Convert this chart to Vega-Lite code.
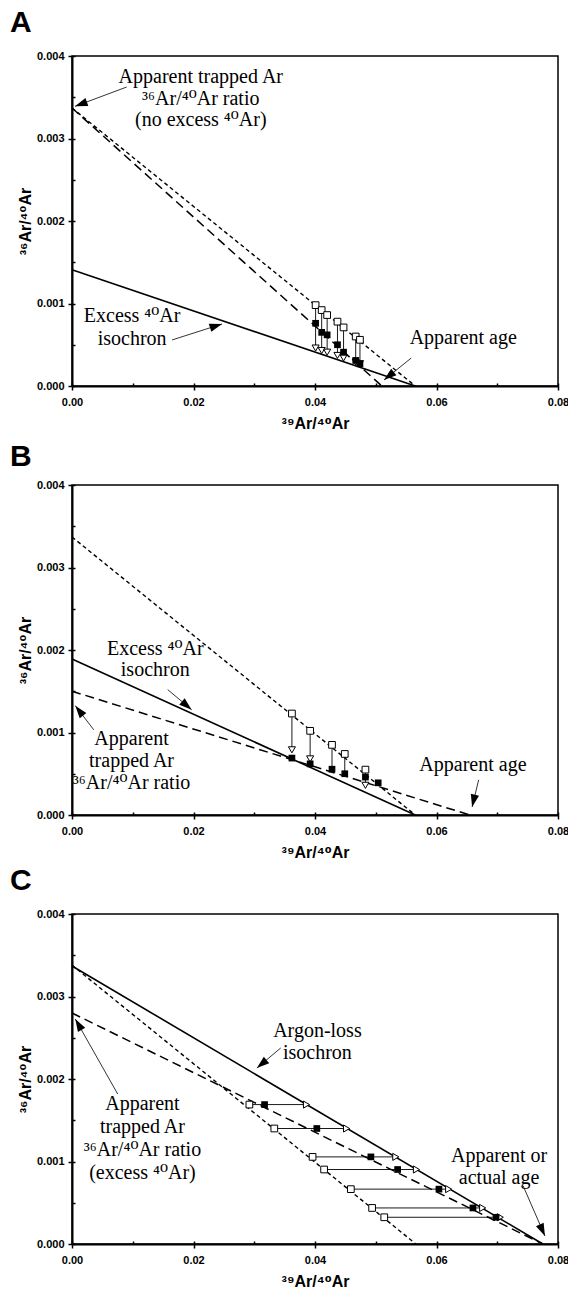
{
  "$schema": "https://vega.github.io/schema/vega-lite/v6.json",
  "background": "white",
  "padding": {"left": 9, "top": 7, "right": 0, "bottom": 0},
  "spacing": 99,
  "bounds": "flush",
  "config": {
    "view": {"stroke": "black", "strokeWidth": 1.5},
    "axis": {
      "domainColor": "black", "domainWidth": 2, "tickColor": "black", "tickWidth": 1.5, "tickSize": 4,
      "labelFont": "Liberation Sans", "labelFontWeight": "bold", "labelFontSize": 11, "labelColor": "black",
      "titleFont": "Liberation Sans, DejaVu Sans", "titleFontWeight": "bold", "titleFontSize": 16, "titleColor": "black",
      "grid": false, "labelFlush": false, "labelOverlap": false
    },
    "title": {"font": "Liberation Sans", "fontWeight": "bold", "fontSize": 30, "color": "black", "anchor": "start", "frame": "group", "baseline": "alphabetic", "dx": -62}
  },
  "datasets": {
    "lines": [
      {"p": "A", "s": "isochron", "x": 0, "y": 0.00141}, {"p": "A", "s": "isochron", "x": 0.0565, "y": 0},
      {"p": "A", "s": "reference", "x": 0, "y": 0.00337}, {"p": "A", "s": "reference", "x": 0.0565, "y": 0},
      {"p": "A", "s": "apparent", "x": 0, "y": 0.00337}, {"p": "A", "s": "apparent", "x": 0.051, "y": 0},
      {"p": "B", "s": "isochron", "x": 0, "y": 0.00189}, {"p": "B", "s": "isochron", "x": 0.0565, "y": 0},
      {"p": "B", "s": "reference", "x": 0, "y": 0.00337}, {"p": "B", "s": "reference", "x": 0.0565, "y": 0},
      {"p": "B", "s": "apparent", "x": 0, "y": 0.0015}, {"p": "B", "s": "apparent", "x": 0.0655, "y": 0},
      {"p": "C", "s": "isochron", "x": 0, "y": 0.00337}, {"p": "C", "s": "isochron", "x": 0.0775, "y": 0},
      {"p": "C", "s": "reference", "x": 0, "y": 0.00338}, {"p": "C", "s": "reference", "x": 0.0566, "y": 0},
      {"p": "C", "s": "apparent", "x": 0, "y": 0.0028}, {"p": "C", "s": "apparent", "x": 0.0775, "y": 0}
    ],
    "points": [
      {"p": "A", "k": "open", "x": 0.0401, "y": 0.00098}, {"p": "A", "k": "open", "x": 0.0411, "y": 0.00092},
      {"p": "A", "k": "open", "x": 0.0420, "y": 0.00086}, {"p": "A", "k": "open", "x": 0.0437, "y": 0.00078},
      {"p": "A", "k": "open", "x": 0.0447, "y": 0.00071}, {"p": "A", "k": "open", "x": 0.0467, "y": 0.0006},
      {"p": "A", "k": "open", "x": 0.0474, "y": 0.00056},
      {"p": "A", "k": "tri", "x": 0.0401, "y": 0.00046}, {"p": "A", "k": "tri", "x": 0.0411, "y": 0.00043},
      {"p": "A", "k": "tri", "x": 0.0420, "y": 0.00041}, {"p": "A", "k": "tri", "x": 0.0437, "y": 0.00037},
      {"p": "A", "k": "tri", "x": 0.0447, "y": 0.00034}, {"p": "A", "k": "tri", "x": 0.0467, "y": 0.00029},
      {"p": "A", "k": "tri", "x": 0.0474, "y": 0.00027},
      {"p": "A", "k": "filled", "x": 0.0401, "y": 0.00076}, {"p": "A", "k": "filled", "x": 0.0411, "y": 0.00065},
      {"p": "A", "k": "filled", "x": 0.0420, "y": 0.00062}, {"p": "A", "k": "filled", "x": 0.0437, "y": 0.0005},
      {"p": "A", "k": "filled", "x": 0.0447, "y": 0.00041}, {"p": "A", "k": "filled", "x": 0.0467, "y": 0.00031},
      {"p": "A", "k": "filled", "x": 0.0474, "y": 0.00027},
      {"p": "B", "k": "open", "x": 0.0362, "y": 0.00123}, {"p": "B", "k": "open", "x": 0.0392, "y": 0.00102},
      {"p": "B", "k": "open", "x": 0.0428, "y": 0.00085}, {"p": "B", "k": "open", "x": 0.0449, "y": 0.00074},
      {"p": "B", "k": "open", "x": 0.0483, "y": 0.00055},
      {"p": "B", "k": "tri", "x": 0.0362, "y": 0.00079}, {"p": "B", "k": "tri", "x": 0.0392, "y": 0.00068},
      {"p": "B", "k": "tri", "x": 0.0483, "y": 0.00036},
      {"p": "B", "k": "filled", "x": 0.0362, "y": 0.00069}, {"p": "B", "k": "filled", "x": 0.0392, "y": 0.00062},
      {"p": "B", "k": "filled", "x": 0.0428, "y": 0.000555}, {"p": "B", "k": "filled", "x": 0.0449, "y": 0.0005},
      {"p": "B", "k": "filled", "x": 0.0483, "y": 0.00046}, {"p": "B", "k": "filled", "x": 0.0504, "y": 0.00039},
      {"p": "C", "k": "open", "x": 0.0292, "y": 0.00169}, {"p": "C", "k": "open", "x": 0.0333, "y": 0.0014},
      {"p": "C", "k": "open", "x": 0.0396, "y": 0.001056}, {"p": "C", "k": "open", "x": 0.0415, "y": 0.000903},
      {"p": "C", "k": "open", "x": 0.0459, "y": 0.000665}, {"p": "C", "k": "open", "x": 0.0494, "y": 0.000437},
      {"p": "C", "k": "open", "x": 0.0514, "y": 0.000324},
      {"p": "C", "k": "tri", "x": 0.0386, "y": 0.00169}, {"p": "C", "k": "tri", "x": 0.0452, "y": 0.0014},
      {"p": "C", "k": "tri", "x": 0.0533, "y": 0.001056}, {"p": "C", "k": "tri", "x": 0.0567, "y": 0.000903},
      {"p": "C", "k": "tri", "x": 0.0620, "y": 0.000665}, {"p": "C", "k": "tri", "x": 0.0676, "y": 0.000437},
      {"p": "C", "k": "tri", "x": 0.0705, "y": 0.000324},
      {"p": "C", "k": "filled", "x": 0.0317, "y": 0.00169}, {"p": "C", "k": "filled", "x": 0.0403, "y": 0.0014},
      {"p": "C", "k": "filled", "x": 0.0492, "y": 0.001056}, {"p": "C", "k": "filled", "x": 0.0536, "y": 0.000903},
      {"p": "C", "k": "filled", "x": 0.0604, "y": 0.000665}, {"p": "C", "k": "filled", "x": 0.0660, "y": 0.000437},
      {"p": "C", "k": "filled", "x": 0.0698, "y": 0.000324}
    ],
    "links": [
      {"p": "A", "x": 0.0401, "y": 0.00098, "x2": 0.0401, "y2": 0.00046},
      {"p": "A", "x": 0.0411, "y": 0.00092, "x2": 0.0411, "y2": 0.00043},
      {"p": "A", "x": 0.0420, "y": 0.00086, "x2": 0.0420, "y2": 0.00041},
      {"p": "A", "x": 0.0437, "y": 0.00078, "x2": 0.0437, "y2": 0.00037},
      {"p": "A", "x": 0.0447, "y": 0.00071, "x2": 0.0447, "y2": 0.00034},
      {"p": "A", "x": 0.0467, "y": 0.0006, "x2": 0.0467, "y2": 0.00029},
      {"p": "A", "x": 0.0474, "y": 0.00056, "x2": 0.0474, "y2": 0.00027},
      {"p": "B", "x": 0.0362, "y": 0.00123, "x2": 0.0362, "y2": 0.00079},
      {"p": "B", "x": 0.0392, "y": 0.00102, "x2": 0.0392, "y2": 0.00068},
      {"p": "B", "x": 0.0428, "y": 0.00085, "x2": 0.0428, "y2": 0.000555},
      {"p": "B", "x": 0.0449, "y": 0.00074, "x2": 0.0449, "y2": 0.0005},
      {"p": "B", "x": 0.0483, "y": 0.00055, "x2": 0.0483, "y2": 0.00036},
      {"p": "C", "x": 0.0292, "y": 0.00169, "x2": 0.0386, "y2": 0.00169},
      {"p": "C", "x": 0.0333, "y": 0.0014, "x2": 0.0452, "y2": 0.0014},
      {"p": "C", "x": 0.0396, "y": 0.001056, "x2": 0.0533, "y2": 0.001056},
      {"p": "C", "x": 0.0415, "y": 0.000903, "x2": 0.0567, "y2": 0.000903},
      {"p": "C", "x": 0.0459, "y": 0.000665, "x2": 0.0620, "y2": 0.000665},
      {"p": "C", "x": 0.0494, "y": 0.000437, "x2": 0.0676, "y2": 0.000437},
      {"p": "C", "x": 0.0514, "y": 0.000324, "x2": 0.0705, "y2": 0.000324}
    ],
    "arrows": [
      {"p": "A", "id": 1, "x": 0.0090, "y": 0.003624, "x2": 0.0005, "y2": 0.00339},
      {"p": "A", "id": 2, "x": 0.01647, "y": 0.000558, "x2": 0.0247, "y2": 0.000752},
      {"p": "A", "id": 3, "x": 0.05584, "y": 0.000339, "x2": 0.05136, "y2": 0.0000727},
      {"p": "B", "id": 1, "x": 0.01575, "y": 0.00152, "x2": 0.01969, "y2": 0.001277},
      {"p": "B", "id": 2, "x": 0.00358, "y": 0.001033, "x2": 0.00054, "y2": 0.001325},
      {"p": "B", "id": 3, "x": 0.06694, "y": 0.000426, "x2": 0.06586, "y2": 0.0000973},
      {"p": "C", "id": 1, "x": 0.03436, "y": 0.002376, "x2": 0.03043, "y2": 0.002133},
      {"p": "C", "id": 2, "x": 0.00752, "y": 0.001818, "x2": 0.00054, "y2": 0.002727},
      {"p": "C", "id": 3, "x": 0.07427, "y": 0.000703, "x2": 0.07785, "y2": 0.000097}
    ],
    "labels": [
      {"p": "A", "x": 0.0212, "y": 0.003742, "t": "Apparent trapped Ar"},
      {"p": "A", "x": 0.0212, "y": 0.003475, "t": "³⁶Ar/⁴⁰Ar ratio"},
      {"p": "A", "x": 0.0212, "y": 0.003224, "t": "(no excess ⁴⁰Ar)"},
      {"p": "A", "x": 0.0099, "y": 0.000848, "t": "Excess ⁴⁰Ar"},
      {"p": "A", "x": 0.0099, "y": 0.000566, "t": "isochron"},
      {"p": "A", "x": 0.0644, "y": 0.000578, "t": "Apparent age"},
      {"p": "B", "x": 0.0137, "y": 0.002013, "t": "Excess ⁴⁰Ar"},
      {"p": "B", "x": 0.0137, "y": 0.001753, "t": "isochron"},
      {"p": "B", "x": 0.0098, "y": 0.00092, "t": "Apparent"},
      {"p": "B", "x": 0.0098, "y": 0.00066, "t": "trapped Ar"},
      {"p": "B", "x": 0.0098, "y": 0.000385, "t": "³⁶Ar/⁴⁰Ar ratio"},
      {"p": "B", "x": 0.0660, "y": 0.000607, "t": "Apparent age"},
      {"p": "C", "x": 0.0404, "y": 0.002583, "t": "Argon-loss"},
      {"p": "C", "x": 0.0404, "y": 0.002312, "t": "isochron"},
      {"p": "C", "x": 0.0116, "y": 0.001693, "t": "Apparent"},
      {"p": "C", "x": 0.0116, "y": 0.001417, "t": "trapped Ar"},
      {"p": "C", "x": 0.0116, "y": 0.001138, "t": "³⁶Ar/⁴⁰Ar ratio"},
      {"p": "C", "x": 0.0116, "y": 0.000855, "t": "(excess ⁴⁰Ar)"},
      {"p": "C", "x": 0.0703, "y": 0.001065, "t": "Apparent or"},
      {"p": "C", "x": 0.0703, "y": 0.000802, "t": "actual age"}
    ]
  },
  "vconcat": [
    {
      "width": 486, "height": 330,
      "title": {"text": "A", "offset": 12},
      "resolve": {"axis": {"x": "independent", "y": "independent"}},
      "layer": [
        {"data": {"name": "lines"}, "transform": [{"filter": "datum.p == 'A' && datum.s == 'isochron'"}],
         "mark": {"type": "line", "color": "black", "strokeWidth": 1.6},
         "encoding": {
           "x": {"field": "x", "type": "quantitative", "scale": {"domain": [0, 0.08], "nice": false, "zero": true},
                 "axis": {"orient": "bottom", "values": [0, 0.02, 0.04, 0.06, 0.08], "format": ".2f", "title": "³⁹Ar/⁴⁰Ar", "labelPadding": 6, "titlePadding": 8}},
           "y": {"field": "y", "type": "quantitative", "scale": {"domain": [0, 0.004], "nice": false, "zero": true},
                 "axis": {"orient": "left", "values": [0, 0.001, 0.002, 0.003, 0.004], "format": ".3f", "title": "³⁶Ar/⁴⁰Ar", "labelPadding": 4, "titlePadding": 3}}
         }},
        {"data": {"name": "lines"}, "transform": [{"filter": "datum.p == 'A' && datum.s == 'reference'"}],
         "mark": {"type": "line", "color": "black", "strokeWidth": 1.4, "strokeDash": [4, 3]},
         "encoding": {
           "x": {"field": "x", "type": "quantitative", "axis": {"orient": "bottom", "values": [0, 0.01, 0.02, 0.03, 0.04, 0.05, 0.06, 0.07, 0.08], "tickSize": -3, "labels": false, "domain": false, "title": null}},
           "y": {"field": "y", "type": "quantitative", "axis": {"orient": "left", "values": [0, 0.0005, 0.001, 0.0015, 0.002, 0.0025, 0.003, 0.0035, 0.004], "tickSize": -3, "labels": false, "domain": false, "title": null}}
         }},
        {"data": {"name": "lines"}, "transform": [{"filter": "datum.p == 'A' && datum.s == 'apparent'"}],
         "mark": {"type": "line", "color": "black", "strokeWidth": 1.5, "strokeDash": [9, 5]},
         "encoding": {"x": {"field": "x", "type": "quantitative", "axis": null}, "y": {"field": "y", "type": "quantitative", "axis": null}}},
        {"data": {"name": "links"}, "transform": [{"filter": "datum.p == 'A'"}],
         "mark": {"type": "rule", "color": "black", "strokeWidth": 0.9},
         "encoding": {"x": {"field": "x", "type": "quantitative", "axis": null}, "y": {"field": "y", "type": "quantitative", "axis": null}, "x2": {"field": "x2"}, "y2": {"field": "y2"}}},
        {"data": {"name": "arrows"}, "transform": [{"filter": "datum.p == 'A'"}],
         "mark": {"type": "rule", "color": "black", "strokeWidth": 0.8},
         "encoding": {"x": {"field": "x", "type": "quantitative", "axis": null}, "y": {"field": "y", "type": "quantitative", "axis": null}, "x2": {"field": "x2"}, "y2": {"field": "y2"}}},
        {"data": {"name": "arrows"}, "transform": [{"filter": "datum.p == 'A' && datum.id == 1"}],
         "mark": {"type": "point", "shape": "M0,0L-0.7,2.1L0.7,2.1Z", "filled": true, "color": "black", "opacity": 1, "size": 144, "angle": 250},
         "encoding": {"x": {"field": "x2", "type": "quantitative", "axis": null}, "y": {"field": "y2", "type": "quantitative", "axis": null}}},
        {"data": {"name": "arrows"}, "transform": [{"filter": "datum.p == 'A' && datum.id == 2"}],
         "mark": {"type": "point", "shape": "M0,0L-0.7,2.1L0.7,2.1Z", "filled": true, "color": "black", "opacity": 1, "size": 144, "angle": 72},
         "encoding": {"x": {"field": "x2", "type": "quantitative", "axis": null}, "y": {"field": "y2", "type": "quantitative", "axis": null}}},
        {"data": {"name": "arrows"}, "transform": [{"filter": "datum.p == 'A' && datum.id == 3"}],
         "mark": {"type": "point", "shape": "M0,0L-0.7,2.1L0.7,2.1Z", "filled": true, "color": "black", "opacity": 1, "size": 144, "angle": 231},
         "encoding": {"x": {"field": "x2", "type": "quantitative", "axis": null}, "y": {"field": "y2", "type": "quantitative", "axis": null}}},
        {"data": {"name": "points"}, "transform": [{"filter": "datum.p == 'A' && datum.k == 'open'"}],
         "mark": {"type": "point", "shape": "square", "filled": true, "fill": "white", "stroke": "black", "strokeWidth": 1, "opacity": 1, "size": 45},
         "encoding": {"x": {"field": "x", "type": "quantitative", "axis": null}, "y": {"field": "y", "type": "quantitative", "axis": null}}},
        {"data": {"name": "points"}, "transform": [{"filter": "datum.p == 'A' && datum.k == 'tri'"}],
         "mark": {"type": "point", "shape": "triangle-down", "filled": true, "fill": "white", "stroke": "black", "strokeWidth": 1, "opacity": 1, "size": 50},
         "encoding": {"x": {"field": "x", "type": "quantitative", "axis": null}, "y": {"field": "y", "type": "quantitative", "axis": null}}},
        {"data": {"name": "points"}, "transform": [{"filter": "datum.p == 'A' && datum.k == 'filled'"}],
         "mark": {"type": "point", "shape": "square", "filled": true, "color": "black", "opacity": 1, "size": 45},
         "encoding": {"x": {"field": "x", "type": "quantitative", "axis": null}, "y": {"field": "y", "type": "quantitative", "axis": null}}},
        {"data": {"name": "labels"}, "transform": [{"filter": "datum.p == 'A'"}],
         "mark": {"type": "text", "font": "Liberation Serif, DejaVu Serif", "fontSize": 20, "color": "black", "align": "center", "baseline": "middle"},
         "encoding": {"x": {"field": "x", "type": "quantitative", "axis": null}, "y": {"field": "y", "type": "quantitative", "axis": null}, "text": {"field": "t"}}}
      ]
    },
    {
      "width": 486, "height": 330,
      "title": {"text": "B", "offset": 7},
      "resolve": {"axis": {"x": "independent", "y": "independent"}},
      "layer": [
        {"data": {"name": "lines"}, "transform": [{"filter": "datum.p == 'B' && datum.s == 'isochron'"}],
         "mark": {"type": "line", "color": "black", "strokeWidth": 1.6},
         "encoding": {
           "x": {"field": "x", "type": "quantitative", "scale": {"domain": [0, 0.08], "nice": false, "zero": true},
                 "axis": {"orient": "bottom", "values": [0, 0.02, 0.04, 0.06, 0.08], "format": ".2f", "title": "³⁹Ar/⁴⁰Ar", "labelPadding": 6, "titlePadding": 8}},
           "y": {"field": "y", "type": "quantitative", "scale": {"domain": [0, 0.004], "nice": false, "zero": true},
                 "axis": {"orient": "left", "values": [0, 0.001, 0.002, 0.003, 0.004], "format": ".3f", "title": "³⁶Ar/⁴⁰Ar", "labelPadding": 4, "titlePadding": 3}}
         }},
        {"data": {"name": "lines"}, "transform": [{"filter": "datum.p == 'B' && datum.s == 'reference'"}],
         "mark": {"type": "line", "color": "black", "strokeWidth": 1.4, "strokeDash": [4, 3]},
         "encoding": {
           "x": {"field": "x", "type": "quantitative", "axis": {"orient": "bottom", "values": [0, 0.01, 0.02, 0.03, 0.04, 0.05, 0.06, 0.07, 0.08], "tickSize": -3, "labels": false, "domain": false, "title": null}},
           "y": {"field": "y", "type": "quantitative", "axis": {"orient": "left", "values": [0, 0.0005, 0.001, 0.0015, 0.002, 0.0025, 0.003, 0.0035, 0.004], "tickSize": -3, "labels": false, "domain": false, "title": null}}
         }},
        {"data": {"name": "lines"}, "transform": [{"filter": "datum.p == 'B' && datum.s == 'apparent'"}],
         "mark": {"type": "line", "color": "black", "strokeWidth": 1.5, "strokeDash": [9, 5]},
         "encoding": {"x": {"field": "x", "type": "quantitative", "axis": null}, "y": {"field": "y", "type": "quantitative", "axis": null}}},
        {"data": {"name": "links"}, "transform": [{"filter": "datum.p == 'B'"}],
         "mark": {"type": "rule", "color": "black", "strokeWidth": 0.9},
         "encoding": {"x": {"field": "x", "type": "quantitative", "axis": null}, "y": {"field": "y", "type": "quantitative", "axis": null}, "x2": {"field": "x2"}, "y2": {"field": "y2"}}},
        {"data": {"name": "arrows"}, "transform": [{"filter": "datum.p == 'B'"}],
         "mark": {"type": "rule", "color": "black", "strokeWidth": 0.8},
         "encoding": {"x": {"field": "x", "type": "quantitative", "axis": null}, "y": {"field": "y", "type": "quantitative", "axis": null}, "x2": {"field": "x2"}, "y2": {"field": "y2"}}},
        {"data": {"name": "arrows"}, "transform": [{"filter": "datum.p == 'B' && datum.id == 1"}],
         "mark": {"type": "point", "shape": "M0,0L-0.7,2.1L0.7,2.1Z", "filled": true, "color": "black", "opacity": 1, "size": 144, "angle": 130},
         "encoding": {"x": {"field": "x2", "type": "quantitative", "axis": null}, "y": {"field": "y2", "type": "quantitative", "axis": null}}},
        {"data": {"name": "arrows"}, "transform": [{"filter": "datum.p == 'B' && datum.id == 2"}],
         "mark": {"type": "point", "shape": "M0,0L-0.7,2.1L0.7,2.1Z", "filled": true, "color": "black", "opacity": 1, "size": 144, "angle": 322},
         "encoding": {"x": {"field": "x2", "type": "quantitative", "axis": null}, "y": {"field": "y2", "type": "quantitative", "axis": null}}},
        {"data": {"name": "arrows"}, "transform": [{"filter": "datum.p == 'B' && datum.id == 3"}],
         "mark": {"type": "point", "shape": "M0,0L-0.7,2.1L0.7,2.1Z", "filled": true, "color": "black", "opacity": 1, "size": 144, "angle": 193},
         "encoding": {"x": {"field": "x2", "type": "quantitative", "axis": null}, "y": {"field": "y2", "type": "quantitative", "axis": null}}},
        {"data": {"name": "points"}, "transform": [{"filter": "datum.p == 'B' && datum.k == 'open'"}],
         "mark": {"type": "point", "shape": "square", "filled": true, "fill": "white", "stroke": "black", "strokeWidth": 1, "opacity": 1, "size": 45},
         "encoding": {"x": {"field": "x", "type": "quantitative", "axis": null}, "y": {"field": "y", "type": "quantitative", "axis": null}}},
        {"data": {"name": "points"}, "transform": [{"filter": "datum.p == 'B' && datum.k == 'tri'"}],
         "mark": {"type": "point", "shape": "triangle-down", "filled": true, "fill": "white", "stroke": "black", "strokeWidth": 1, "opacity": 1, "size": 50},
         "encoding": {"x": {"field": "x", "type": "quantitative", "axis": null}, "y": {"field": "y", "type": "quantitative", "axis": null}}},
        {"data": {"name": "points"}, "transform": [{"filter": "datum.p == 'B' && datum.k == 'filled'"}],
         "mark": {"type": "point", "shape": "square", "filled": true, "color": "black", "opacity": 1, "size": 45},
         "encoding": {"x": {"field": "x", "type": "quantitative", "axis": null}, "y": {"field": "y", "type": "quantitative", "axis": null}}},
        {"data": {"name": "labels"}, "transform": [{"filter": "datum.p == 'B'"}],
         "mark": {"type": "text", "font": "Liberation Serif, DejaVu Serif", "fontSize": 20, "color": "black", "align": "center", "baseline": "middle"},
         "encoding": {"x": {"field": "x", "type": "quantitative", "axis": null}, "y": {"field": "y", "type": "quantitative", "axis": null}, "text": {"field": "t"}}}
      ]
    },
    {
      "width": 486, "height": 330,
      "title": {"text": "C", "offset": 12},
      "resolve": {"axis": {"x": "independent", "y": "independent"}},
      "layer": [
        {"data": {"name": "lines"}, "transform": [{"filter": "datum.p == 'C' && datum.s == 'isochron'"}],
         "mark": {"type": "line", "color": "black", "strokeWidth": 1.6},
         "encoding": {
           "x": {"field": "x", "type": "quantitative", "scale": {"domain": [0, 0.08], "nice": false, "zero": true},
                 "axis": {"orient": "bottom", "values": [0, 0.02, 0.04, 0.06, 0.08], "format": ".2f", "title": "³⁹Ar/⁴⁰Ar", "labelPadding": 6, "titlePadding": 8}},
           "y": {"field": "y", "type": "quantitative", "scale": {"domain": [0, 0.004], "nice": false, "zero": true},
                 "axis": {"orient": "left", "values": [0, 0.001, 0.002, 0.003, 0.004], "format": ".3f", "title": "³⁶Ar/⁴⁰Ar", "labelPadding": 4, "titlePadding": 3}}
         }},
        {"data": {"name": "lines"}, "transform": [{"filter": "datum.p == 'C' && datum.s == 'reference'"}],
         "mark": {"type": "line", "color": "black", "strokeWidth": 1.4, "strokeDash": [4, 3]},
         "encoding": {
           "x": {"field": "x", "type": "quantitative", "axis": {"orient": "bottom", "values": [0, 0.01, 0.02, 0.03, 0.04, 0.05, 0.06, 0.07, 0.08], "tickSize": -3, "labels": false, "domain": false, "title": null}},
           "y": {"field": "y", "type": "quantitative", "axis": {"orient": "left", "values": [0, 0.0005, 0.001, 0.0015, 0.002, 0.0025, 0.003, 0.0035, 0.004], "tickSize": -3, "labels": false, "domain": false, "title": null}}
         }},
        {"data": {"name": "lines"}, "transform": [{"filter": "datum.p == 'C' && datum.s == 'apparent'"}],
         "mark": {"type": "line", "color": "black", "strokeWidth": 1.5, "strokeDash": [9, 5]},
         "encoding": {"x": {"field": "x", "type": "quantitative", "axis": null}, "y": {"field": "y", "type": "quantitative", "axis": null}}},
        {"data": {"name": "links"}, "transform": [{"filter": "datum.p == 'C'"}],
         "mark": {"type": "rule", "color": "black", "strokeWidth": 0.9},
         "encoding": {"x": {"field": "x", "type": "quantitative", "axis": null}, "y": {"field": "y", "type": "quantitative", "axis": null}, "x2": {"field": "x2"}, "y2": {"field": "y2"}}},
        {"data": {"name": "arrows"}, "transform": [{"filter": "datum.p == 'C'"}],
         "mark": {"type": "rule", "color": "black", "strokeWidth": 0.8},
         "encoding": {"x": {"field": "x", "type": "quantitative", "axis": null}, "y": {"field": "y", "type": "quantitative", "axis": null}, "x2": {"field": "x2"}, "y2": {"field": "y2"}}},
        {"data": {"name": "arrows"}, "transform": [{"filter": "datum.p == 'C' && datum.id == 1"}],
         "mark": {"type": "point", "shape": "M0,0L-0.7,2.1L0.7,2.1Z", "filled": true, "color": "black", "opacity": 1, "size": 144, "angle": 230},
         "encoding": {"x": {"field": "x2", "type": "quantitative", "axis": null}, "y": {"field": "y2", "type": "quantitative", "axis": null}}},
        {"data": {"name": "arrows"}, "transform": [{"filter": "datum.p == 'C' && datum.id == 2"}],
         "mark": {"type": "point", "shape": "M0,0L-0.7,2.1L0.7,2.1Z", "filled": true, "color": "black", "opacity": 1, "size": 144, "angle": 330},
         "encoding": {"x": {"field": "x2", "type": "quantitative", "axis": null}, "y": {"field": "y2", "type": "quantitative", "axis": null}}},
        {"data": {"name": "arrows"}, "transform": [{"filter": "datum.p == 'C' && datum.id == 3"}],
         "mark": {"type": "point", "shape": "M0,0L-0.7,2.1L0.7,2.1Z", "filled": true, "color": "black", "opacity": 1, "size": 144, "angle": 156},
         "encoding": {"x": {"field": "x2", "type": "quantitative", "axis": null}, "y": {"field": "y2", "type": "quantitative", "axis": null}}},
        {"data": {"name": "points"}, "transform": [{"filter": "datum.p == 'C' && datum.k == 'open'"}],
         "mark": {"type": "point", "shape": "square", "filled": true, "fill": "white", "stroke": "black", "strokeWidth": 1, "opacity": 1, "size": 45},
         "encoding": {"x": {"field": "x", "type": "quantitative", "axis": null}, "y": {"field": "y", "type": "quantitative", "axis": null}}},
        {"data": {"name": "points"}, "transform": [{"filter": "datum.p == 'C' && datum.k == 'tri'"}],
         "mark": {"type": "point", "shape": "triangle-right", "filled": true, "fill": "white", "stroke": "black", "strokeWidth": 1, "opacity": 1, "size": 50},
         "encoding": {"x": {"field": "x", "type": "quantitative", "axis": null}, "y": {"field": "y", "type": "quantitative", "axis": null}}},
        {"data": {"name": "points"}, "transform": [{"filter": "datum.p == 'C' && datum.k == 'filled'"}],
         "mark": {"type": "point", "shape": "square", "filled": true, "color": "black", "opacity": 1, "size": 45},
         "encoding": {"x": {"field": "x", "type": "quantitative", "axis": null}, "y": {"field": "y", "type": "quantitative", "axis": null}}},
        {"data": {"name": "labels"}, "transform": [{"filter": "datum.p == 'C'"}],
         "mark": {"type": "text", "font": "Liberation Serif, DejaVu Serif", "fontSize": 20, "color": "black", "align": "center", "baseline": "middle"},
         "encoding": {"x": {"field": "x", "type": "quantitative", "axis": null}, "y": {"field": "y", "type": "quantitative", "axis": null}, "text": {"field": "t"}}}
      ]
    }
  ]
}
